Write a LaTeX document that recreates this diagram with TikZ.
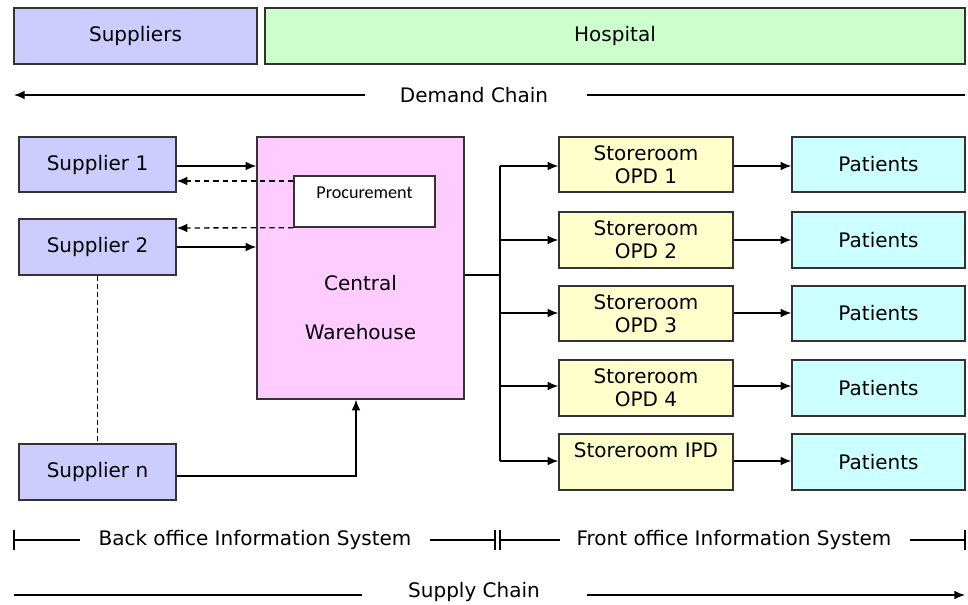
\documentclass[tikz,border=0pt]{standalone}
\usepackage{fontspec}
\setmainfont{DejaVu Sans}
\newfontfamily\procfont{Carlito}
\usetikzlibrary{arrows.meta}
\definecolor{supc}{HTML}{CCCCFF}
\definecolor{hosc}{HTML}{CCFFCC}
\definecolor{cwc}{HTML}{FFCCFF}
\definecolor{stc}{HTML}{FFFFCC}
\definecolor{patc}{HTML}{CCFFFF}
\definecolor{edge}{HTML}{333333}
\tikzset{
  box/.style={draw=edge, line width=1pt, inner sep=0pt, font=\fontsize{15}{17}\selectfont, align=center},
  conn/.style={line width=1pt, -{Latex[length=8pt,width=6.5pt]}},
  dconn/.style={line width=1pt, dash pattern=on 4pt off 3pt, -{Latex[length=8pt,width=6.5pt]}},
  lbl/.style={font=\fontsize{15}{17}\selectfont, inner sep=0pt},
  plain/.style={line width=1pt},
}
\begin{document}
\begin{tikzpicture}[x=0.75pt,y=-0.75pt]
\useasboundingbox (0,0) rectangle (968,604);
% header
\node[box, fill=supc, minimum width=243*0.75pt, minimum height=56*0.75pt] (sup) at (135.5,36) {Suppliers};
\node[box, fill=hosc, minimum width=700*0.75pt, minimum height=56*0.75pt] (hosp) at (615,36) {Hospital};
% demand chain
\node[lbl] (dem) at (474,95) {Demand Chain};
\coordinate (demL) at (14,95);
\coordinate (demR) at (965,95);
\draw[conn] (365,95) -- (demL);
\draw[plain] (587,95) -- (demR);
% suppliers
\node[box, fill=supc, minimum width=157*0.75pt, minimum height=55*0.75pt] (s1) at (97.5,164.5) {Supplier 1};
\node[box, fill=supc, minimum width=157*0.75pt, minimum height=56*0.75pt] (s2) at (97.5,247) {Supplier 2};
\node[box, fill=supc, minimum width=157*0.75pt, minimum height=56*0.75pt] (sn) at (97.5,472) {Supplier n};
% central warehouse
\node[box, fill=cwc, minimum width=207*0.75pt, minimum height=262*0.75pt] (cw) at (360.5,268) {};
\node[lbl] (cwt1) at (360.5,283) {Central};
\node[lbl] (cwt2) at (360.5,332) {Warehouse};
\node[box, fill=white, minimum width=141*0.75pt, minimum height=51*0.75pt] (proc) at (364.5,201.5) {};
\node[inner sep=0pt, font=\procfont\fontsize{13.6}{15}\selectfont] (proct) at (364.5,193) {Procurement};
% supplier arrows
\draw[conn] (s1.east |- 0,166) -- (cw.west |- 0,166);
\draw[dconn] (proc.west |- 0,181) -- (s1.east |- 0,181);
\draw[dconn] (proc.south west) -- (s2.east |- 0,228);
\draw[conn] (s2.east |- 0,247) -- (cw.west |- 0,247);
\draw[plain, dash pattern=on 4pt off 2pt] (s2.south) -- (sn.north);
\draw[conn] (sn.east |- 0,476) -- (356,476) -- (cw.south -| 356,0);
% storerooms
\node[box, fill=stc, minimum width=174*0.75pt, minimum height=55*0.75pt] (o1) at (646,164.5) {Storeroom\\OPD 1};
\node[box, fill=stc, minimum width=174*0.75pt, minimum height=56*0.75pt] (o2) at (646,240) {Storeroom\\OPD 2};
\node[box, fill=stc, minimum width=174*0.75pt, minimum height=55*0.75pt] (o3) at (646,313.5) {Storeroom\\OPD 3};
\node[box, fill=stc, minimum width=174*0.75pt, minimum height=56*0.75pt] (o4) at (646,388) {Storeroom\\OPD 4};
\node[box, fill=stc, minimum width=174*0.75pt, minimum height=56*0.75pt] (ipd) at (646,462) {};
\node[lbl] (ipdt) at (646,450) {Storeroom IPD};
% patients
\node[box, fill=patc, minimum width=173*0.75pt, minimum height=55*0.75pt] (p1) at (878.5,164.5) {Patients};
\node[box, fill=patc, minimum width=173*0.75pt, minimum height=56*0.75pt] (p2) at (878.5,240) {Patients};
\node[box, fill=patc, minimum width=173*0.75pt, minimum height=55*0.75pt] (p3) at (878.5,313.5) {Patients};
\node[box, fill=patc, minimum width=173*0.75pt, minimum height=56*0.75pt] (p4) at (878.5,388) {Patients};
\node[box, fill=patc, minimum width=173*0.75pt, minimum height=56*0.75pt] (p5) at (878.5,462) {Patients};
% distribution
\coordinate (br) at (500,275);
\draw[plain] (cw.east |- br) -- (br);
\draw[plain] (500,166) -- (500,461);
\draw[conn] (500,166) -- (o1.west |- 0,166);
\draw[conn] (500,240) -- (o2.west);
\draw[conn] (500,313) -- (o3.west |- 0,313);
\draw[conn] (500,386) -- (o4.west |- 0,386);
\draw[conn] (500,461) -- (ipd.west |- 0,461);
\draw[conn] (o1.east |- 0,166) -- (p1.west |- 0,166);
\draw[conn] (o2.east) -- (p2.west);
\draw[conn] (o3.east |- 0,313) -- (p3.west |- 0,313);
\draw[conn] (o4.east |- 0,386) -- (p4.west |- 0,386);
\draw[conn] (ipd.east |- 0,461) -- (p5.west |- 0,461);
% back / front office
\node[lbl] (back) at (255,540) {Back office Information System};
\node[lbl] (front) at (734,540) {Front office Information System};
\draw[plain] (14,530) -- (14,550);
\draw[plain] (14,540) -- (80,540);
\draw[plain] (430,540) -- (495,540);
\draw[plain] (495,530) -- (495,550);
\draw[plain] (500,530) -- (500,550);
\draw[plain] (500,540) -- (560,540);
\draw[plain] (910,540) -- (965,540);
\draw[plain] (965,530) -- (965,550);
% supply chain
\node[lbl] (sup2) at (474,592) {Supply Chain};
\draw[plain] (14,595) -- (362,595);
\draw[conn] (587,595) -- (965,595);
\end{tikzpicture}
\end{document}
